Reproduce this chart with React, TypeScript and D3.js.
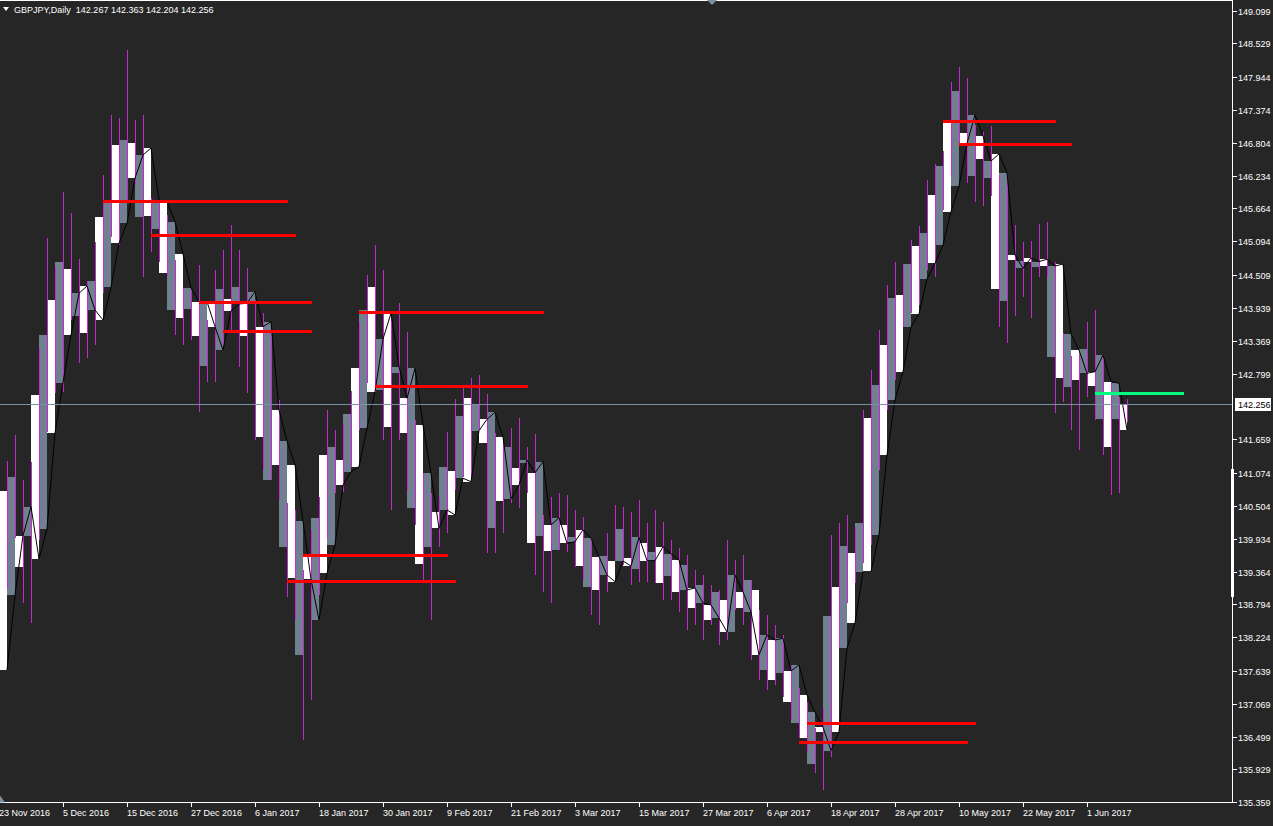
import React from 'react';
import * as d3 from 'd3';

// ---------- data ----------
const symbolTitle = 'GBPJPY,Daily';
const lastQuote = [142.267, 142.363, 142.204, 142.256];
const bidPrice = 142.256;

const dateLabels = [
  '23 Nov 2016', '5 Dec 2016', '15 Dec 2016', '27 Dec 2016', '6 Jan 2017', '18 Jan 2017',
  '30 Jan 2017', '9 Feb 2017', '21 Feb 2017', '3 Mar 2017', '15 Mar 2017', '27 Mar 2017',
  '6 Apr 2017', '18 Apr 2017', '28 Apr 2017', '10 May 2017', '22 May 2017', '1 Jun 2017',
];
const barsPerDateLabel = 8;

const priceTicks = [
  149.099, 148.529, 147.944, 147.374, 146.804, 146.234, 145.664, 145.094, 144.509, 143.939,
  143.369, 142.799, 141.659, 141.074, 140.504, 139.934, 139.364, 138.794, 138.224, 137.639,
  137.069, 136.499, 135.929, 135.359,
];

const opens = [
  140.762, 141.010, 139.448, 139.986, 142.427, 143.468, 144.076, 144.741, 144.609, 143.798,
  143.508, 144.406, 145.521, 145.782, 146.765, 146.852, 146.800, 145.521, 145.533, 145.303,
  144.549, 143.902, 143.768, 143.915, 143.451, 142.936, 144.047, 144.267, 144.093, 144.307,
  143.451, 144.006, 141.704, 140.952, 141.212, 139.795, 139.246, 137.916, 139.651, 140.293,
  141.386, 141.531, 141.299, 142.098, 142.901, 143.902, 144.307, 142.514, 141.878, 142.804,
  141.762, 140.461, 139.495, 139.795, 140.403, 141.183, 141.114, 142.063, 142.380, 142.271,
  141.600, 140.125, 140.593, 141.531, 141.166, 141.242, 139.864, 139.981, 139.720, 139.738,
  140.171, 139.969, 139.460, 139.091, 139.044, 139.634, 139.547, 140.102, 139.594, 139.408,
  139.864, 139.708, 139.170, 139.287, 139.009, 139.478, 138.731, 139.130, 138.523, 139.009,
  138.870, 138.315, 138.731, 139.217, 139.044, 137.656, 137.482, 137.599, 137.106, 136.741,
  136.470, 136.025, 136.585, 138.593, 139.101, 139.807, 139.680, 140.201, 142.028, 142.601,
  143.295, 144.110, 144.162, 144.700, 145.013, 145.243, 145.897, 146.401, 147.142, 147.707,
  146.978, 146.227, 146.522, 146.198, 144.266, 144.064, 144.770, 144.752, 144.735, 144.654,
  144.665, 143.092, 142.717, 142.571, 142.688, 143.220, 142.588, 142.011, 141.531, 142.011,
  142.254,
];

const closes = [
  137.656, 138.957, 139.986, 140.489, 139.582, 140.102, 141.768, 142.641, 143.468, 144.192,
  144.319, 143.902, 143.729, 144.296, 145.060, 145.407, 146.192, 146.591, 146.713, 145.811,
  145.782, 145.434, 144.874, 144.289, 144.047, 144.047, 143.613, 143.208, 143.890, 144.006,
  144.019, 144.220, 143.613, 143.700, 142.167, 141.630, 141.212, 140.241, 139.229, 138.523,
  139.334, 139.825, 140.865, 141.096, 141.183, 141.850, 142.485, 143.399, 143.845, 142.919,
  142.370, 142.891, 141.907, 141.069, 140.114, 140.432, 140.345, 140.982, 140.923, 141.808,
  142.006, 142.127, 141.704, 140.623, 140.865, 141.299, 141.079, 141.270, 140.171, 140.298,
  139.852, 139.882, 140.085, 139.941, 139.622, 139.304, 139.188, 139.547, 139.460, 139.958,
  139.552, 139.552, 139.795, 139.669, 139.564, 139.044, 139.078, 138.818, 138.783, 138.558,
  138.315, 139.304, 139.009, 138.662, 137.916, 138.263, 138.176, 138.205, 137.638, 137.742,
  137.222, 136.927, 136.661, 136.256, 136.585, 138.032, 138.476, 139.361, 139.361, 139.998,
  141.386, 142.341, 142.831, 143.613, 143.833, 144.440, 144.712, 145.030, 145.608, 146.054,
  146.794, 147.286, 146.921, 146.487, 146.609, 146.284, 144.856, 144.625, 144.804, 144.741,
  144.782, 144.665, 144.700, 143.486, 143.208, 142.804, 142.831, 143.121, 142.658, 142.630,
  141.820,
];

const wickHigh = [
  140.952, 141.282, 141.734, 140.952, 141.270, 143.243, 145.151, 144.648, 145.950, 145.585,
  144.787, 144.405, 145.082, 146.245, 147.286, 147.234, 148.414, 147.199, 147.286, 145.846,
  145.811, 145.550, 144.770, 144.284, 144.249, 144.683, 143.729, 144.596, 144.943, 145.377,
  144.943, 144.631, 144.076, 143.850, 143.555, 142.341, 140.553, 140.432, 139.391, 140.085,
  140.657, 142.167, 141.820, 141.942, 142.497, 143.694, 144.509, 145.030, 144.596, 143.763,
  144.024, 143.520, 141.994, 141.074, 140.727, 140.657, 141.785, 142.358, 142.549, 142.722,
  142.774, 142.445, 141.768, 141.612, 141.855, 142.028, 141.525, 141.751, 140.345, 140.657,
  140.727, 140.692, 140.432, 140.310, 139.946, 139.616, 140.033, 140.518, 140.484, 140.397,
  140.605, 140.206, 140.432, 140.223, 139.911, 139.773, 139.651, 139.391, 139.304, 139.130,
  139.044, 139.911, 139.564, 139.651, 139.217, 138.697, 138.610, 138.436, 138.263, 137.742,
  137.343, 137.100, 136.649, 136.996, 139.998, 140.206, 140.345, 140.137, 142.167, 142.861,
  143.555, 144.336, 144.735, 144.683, 145.117, 145.360, 146.158, 146.435, 146.661, 147.858,
  148.119, 147.928, 147.112, 146.991, 147.095, 146.245, 146.245, 145.377, 145.082, 145.099,
  145.394, 145.429, 144.735, 143.503, 143.104, 143.121, 143.694, 143.902, 143.121, 142.653,
  142.393, 142.363,
];

const wickLow = [
  137.482, 139.056, 139.941, 138.823, 138.476, 139.911, 141.785, 142.462, 142.479, 143.729,
  142.982, 143.069, 143.295, 144.197, 145.169, 145.030, 145.811, 146.071, 144.475, 144.908,
  144.735, 144.492, 143.468, 143.295, 143.382, 142.132, 142.653, 142.653, 143.260, 143.503,
  142.913, 142.462, 141.647, 141.126, 140.952, 140.605, 138.922, 138.523, 136.441, 137.135,
  138.957, 139.946, 140.727, 140.744, 141.178, 141.820, 142.635, 142.479, 141.647, 140.432,
  141.647, 140.779, 140.171, 139.217, 138.523, 139.790, 140.033, 140.779, 141.004, 140.952,
  141.820, 139.686, 139.686, 140.033, 140.553, 140.467, 140.727, 139.304, 139.009, 138.818,
  139.738, 139.703, 139.443, 139.217, 138.610, 138.436, 139.009, 139.564, 139.478, 139.130,
  139.182, 139.182, 139.165, 138.870, 138.870, 138.662, 138.350, 138.436, 138.176, 138.436,
  138.089, 138.176, 138.697, 138.436, 137.829, 137.482, 137.309, 137.395, 137.187, 136.788,
  136.476, 136.233, 135.868, 135.574, 136.146, 138.037, 138.818, 139.165, 139.512, 139.825,
  141.126, 142.167, 142.688, 143.607, 143.850, 143.989, 144.596, 144.475, 145.637, 146.210,
  146.800, 146.106, 145.776, 145.707, 145.880, 143.607, 143.330, 143.798, 144.128, 143.763,
  144.475, 144.475, 142.115, 142.306, 141.820, 141.473, 142.393, 141.994, 141.386, 140.692,
  140.727, 141.950,
];

// horizontal levels: price, first bar, last bar
const redLevelPrices = [145.799, 145.203, 144.036, 143.543, 143.862, 142.579, 139.646, 139.200, 147.176, 146.777, 136.731, 136.401];
const redLevelFrom = [13, 19, 25, 28, 45, 47, 38, 36, 118, 120, 101, 100];
const redLevelTo = [36, 37, 39, 39, 68, 66, 56, 57, 132, 134, 122, 121];
const greenLevelPrice = 142.457;
const greenLevelFrom = 137;
const greenLevelTo = 148;

// ---------- layout ----------
const W = 1273;
const H = 826;
const BORDER_X = 1232;
const FONT = "'Liberation Sans', Arial, sans-serif";
const BG = '#262626';
const WHITE_BODY = '#ffffff';
const GRAY_BODY = '#708090';
const WICK = '#c828d0';

export default function App() {
  const x = d3.scaleLinear().domain([0, 141]).range([-1, 1127]);
  const y = d3.scaleLinear().domain([135.359, 149.099]).range([802.3, 10.5]);
  const bottomY = Math.round(y(135.359)) + 0.5;

  const closeLine = d3
    .line<number>()
    .x((_, i) => x(i + 1))
    .y((d) => y(d))(closes) as string;

  const bidY = Math.floor(y(bidPrice)) + 0.5;
  const titleText = `${symbolTitle}\u00A0\u00A0${lastQuote.map((v) => v.toFixed(3)).join('\u00A0')}`;

  return (
    <svg
      width={W}
      height={H}
      style={{ position: 'absolute', left: 0, top: 0, display: 'block', background: BG }}
    >
      <defs>
        <clipPath id="plot">
          <rect x={0} y={1} width={BORDER_X} height={bottomY - 1} />
        </clipPath>
      </defs>
      <rect x={0} y={0} width={W} height={H} fill={BG} />

      <g clipPath="url(#plot)">
        {/* bodies */}
        {opens.map((o, i) => {
          const c = closes[i];
          const t = Math.round(y(Math.max(o, c)));
          const b = Math.round(y(Math.min(o, c)));
          return (
            <rect
              key={'b' + i}
              x={x(i)}
              y={t}
              width={8}
              height={Math.max(1, b - t)}
              fill={i % 2 === 0 ? WHITE_BODY : GRAY_BODY}
              shapeRendering="crispEdges"
            />
          );
        })}
        {/* wicks */}
        {wickHigh.map((h, i) => {
          const t = Math.round(y(h));
          const b = Math.round(y(wickLow[i]));
          return (
            <rect
              key={'w' + i}
              x={x(i)}
              y={t}
              width={1}
              height={Math.max(1, b - t)}
              fill={WICK}
              shapeRendering="crispEdges"
            />
          );
        })}
        {/* close line */}
        <path d={closeLine} fill="none" stroke="#000000" strokeWidth={1} />
        {/* bid line */}
        <line x1={0} x2={BORDER_X} y1={bidY} y2={bidY} stroke="#7d8fa0" strokeWidth={1} shapeRendering="crispEdges" />
        {/* levels */}
        {redLevelPrices.map((p, i) => (
          <rect
            key={'r' + i}
            x={x(redLevelFrom[i])}
            y={Math.round(y(p)) - 1}
            width={x(redLevelTo[i]) - x(redLevelFrom[i]) + 1}
            height={3}
            fill="#ff0000"
            shapeRendering="crispEdges"
          />
        ))}
        <rect
          x={x(greenLevelFrom)}
          y={Math.round(y(greenLevelPrice)) - 1}
          width={x(greenLevelTo) - x(greenLevelFrom) + 1}
          height={3}
          fill="#00ff7f"
          shapeRendering="crispEdges"
        />
      </g>

      {/* frame */}
      <g stroke="#ffffff" strokeWidth={1} shapeRendering="crispEdges">
        <line x1={0} x2={BORDER_X + 0.5} y1={0.5} y2={0.5} />
        <line x1={BORDER_X + 0.5} x2={BORDER_X + 0.5} y1={0} y2={bottomY} />
        <line x1={0} x2={BORDER_X + 0.5} y1={bottomY} y2={bottomY} />
      </g>
      <rect x={1231} y={469} width={3} height={128} fill="#ffffff" />

      {/* markers */}
      <path d="M707,0 L717,0 L712,5 Z" fill="#7d8fa0" />
      <path d={`M0,${bottomY - 7} L5,${bottomY} L0,${bottomY} Z`} fill="#7d8fa0" />

      {/* price axis */}
      {priceTicks.map((p) => {
        const ty = Math.round(y(p)) + 0.5;
        return (
          <g key={'p' + p}>
            <line x1={BORDER_X + 0.5} x2={BORDER_X + 4.5} y1={ty} y2={ty} stroke="#ffffff" shapeRendering="crispEdges" />
            <text x={1238} y={ty + 3.5} fill="#ffffff" fontSize={9} fontFamily={FONT}>
              {p.toFixed(3)}
            </text>
          </g>
        );
      })}
      {/* bid label */}
      <rect x={1235} y={bidY - 6.5} width={36} height={13} fill="#ffffff" />
      <text x={1238} y={bidY + 3.5} fill="#000000" fontSize={9} fontFamily={FONT}>
        {bidPrice.toFixed(3)}
      </text>

      {/* time axis */}
      {dateLabels.map((lbl, k) => {
        const tx = Math.round(x(k * barsPerDateLabel)) + 0.5;
        return (
          <g key={'d' + k}>
            <line x1={tx} x2={tx} y1={bottomY} y2={bottomY + 4} stroke="#ffffff" shapeRendering="crispEdges" />
            <text x={tx - 0.5} y={bottomY + 13} fill="#ffffff" fontSize={9} fontFamily={FONT}>
              {lbl}
            </text>
          </g>
        );
      })}

      {/* title */}
      <path d="M3,7 L9,7 L6,11 Z" fill="#ffffff" />
      <text x={14} y={13} fill="#ffffff" fontSize={9} fontFamily={FONT}>
        {titleText}
      </text>
    </svg>
  );
}
